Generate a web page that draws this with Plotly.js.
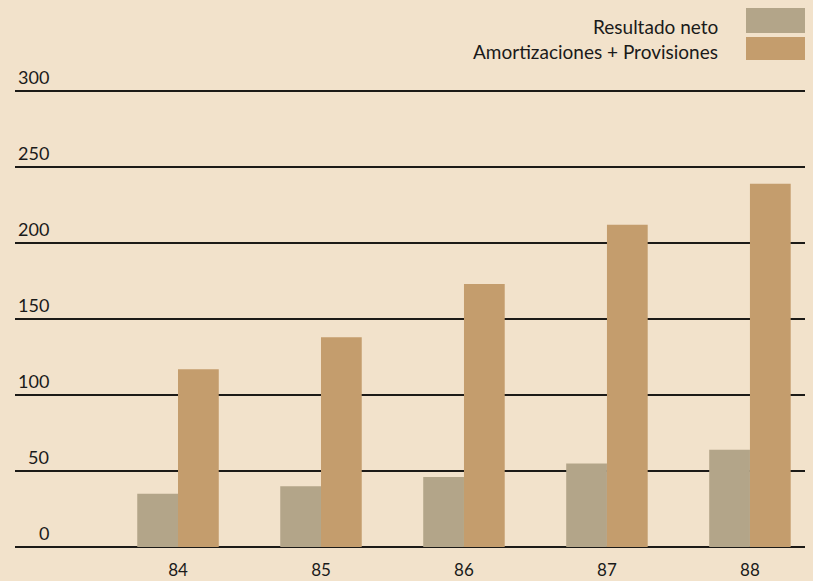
<!DOCTYPE html>
<html><head><meta charset="utf-8">
<script src="https://cdn.plot.ly/plotly-3.0.1.min.js"></script>
<style>html,body{margin:0;padding:0;background:#f2e2cb;}</style>
</head><body><div id="chart" style="width:813px;height:581px;"></div>
<script>
const years = ['84','85','86','87','88'];
const resultadoNeto = [35, 40, 46, 55, 64];
const amortProv = [117, 138, 173, 212, 239];
const yTicks = [0, 50, 100, 150, 200, 250, 300];
const seriesNames = ['Resultado neto', 'Amortizaciones + Provisiones'];
const colors = ['#b3a589', '#c49d6d'];

const FONT = 'Lato, "Open Sans", sans-serif';
const W = 813, H = 581, ml = 15, mr = 8, mt = 83, mb = 31;
const pw = W - ml - mr, ph = H - mt - mb;
const px = x => (x - ml) / pw;          // pixel x -> paper
const py = y => 1 - (y - mt) / ph;      // pixel y -> paper

const traces = seriesNames.map((n, i) => ({
  type: 'bar', name: n, x: years, y: i === 0 ? resultadoNeto : amortProv,
  marker: {color: colors[i], line: {width: 0}}, showlegend: false, hoverinfo: 'skip'
}));

const annotations = yTicks.map(v => ({
  xref: 'paper', yref: 'y', x: px(51), y: v, xanchor: 'right', yanchor: 'bottom',
  yshift: 1, text: String(v), showarrow: false,
  font: {family: FONT, size: 18, color: '#1a1a1a'}
}));
const legendY = [27, 52];
seriesNames.forEach((n, i) => annotations.push({
  xref: 'paper', yref: 'paper', x: px(720), y: py(legendY[i]), xanchor: 'right', yanchor: 'middle',
  text: n, showarrow: false, font: {family: FONT, size: 19, color: '#1a1a1a'}
}));
const swatchPix = [[8, 33], [37, 60]];
const shapes = swatchPix.map((s, i) => ({
  type: 'rect', xref: 'paper', yref: 'paper', x0: px(746), x1: px(805),
  y0: py(s[1]), y1: py(s[0]), fillcolor: colors[i], line: {width: 0}
}));

const layout = {
  width: W, height: H,
  margin: {l: ml, r: mr, t: mt, b: mb, pad: 0},
  paper_bgcolor: '#f2e2cb', plot_bgcolor: '#f2e2cb',
  barmode: 'group', bargap: 0.43, bargroupgap: 0,
  xaxis: {type: 'category', range: [-1.14, 4.385], showgrid: false, zeroline: false,
    showline: false, ticks: '', ticklen: 0, ticklabelstandoff: 8,
    tickfont: {family: FONT, size: 17, color: '#1a1a1a'}, fixedrange: true},
  yaxis: {range: [-1.97, 305.3], tickvals: yTicks, showticklabels: false,
    showgrid: true, gridcolor: '#1c1a17', gridwidth: 2.6,
    zeroline: true, zerolinecolor: '#1c1a17', zerolinewidth: 2.6, showline: false, fixedrange: true},
  annotations: annotations, shapes: shapes,
  font: {family: FONT}
};
Plotly.newPlot('chart', traces, layout, {displayModeBar: false, staticPlot: true});
</script></body></html>
